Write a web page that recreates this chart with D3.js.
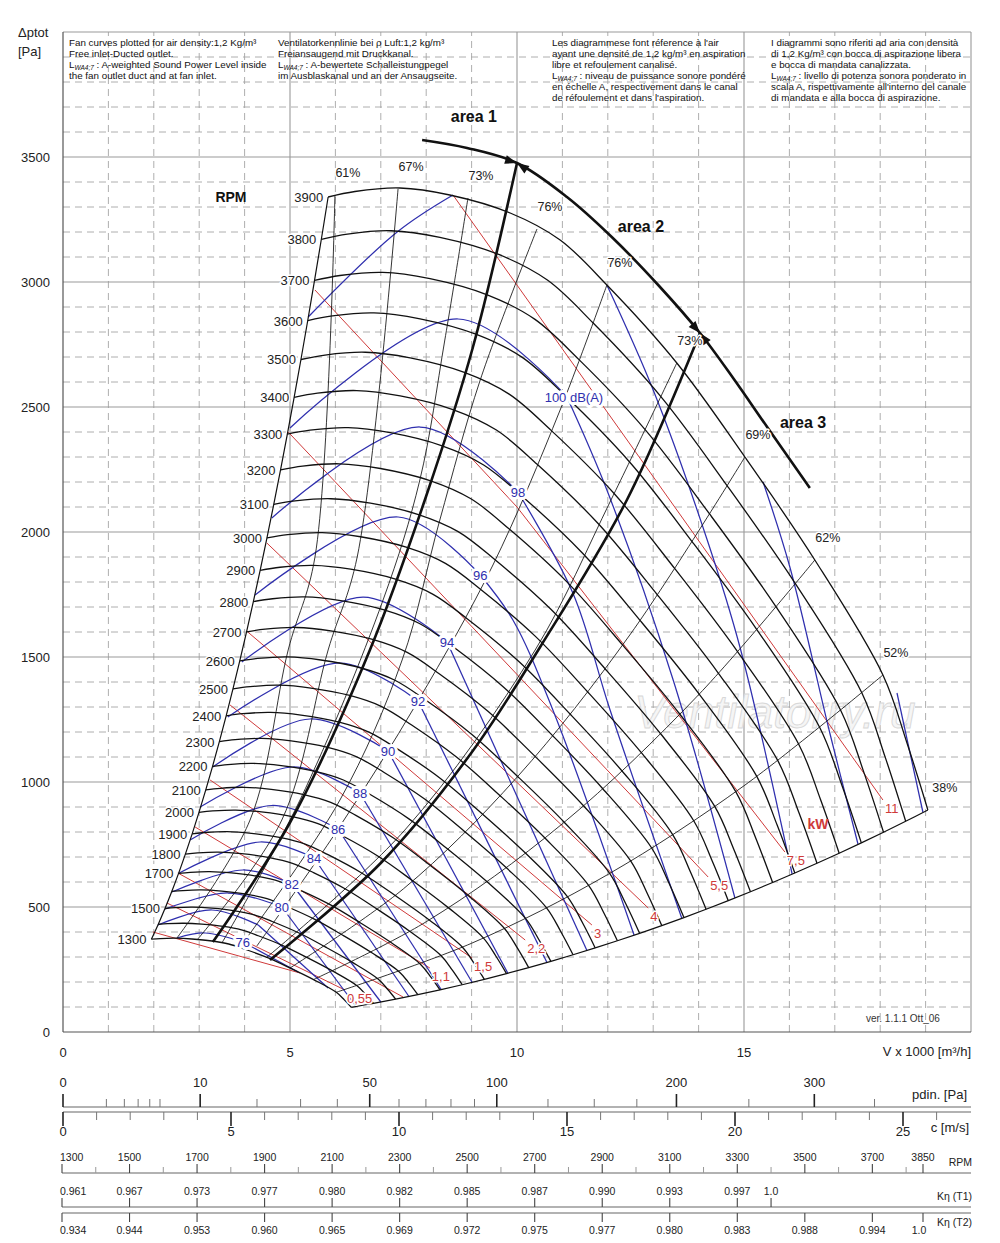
<!DOCTYPE html>
<html><head><meta charset="utf-8">
<script src="https://cdn.jsdelivr.net/npm/d3@7"></script>
<style>
body{margin:0;background:#fff}
svg{display:block}
text{font-family:"Liberation Sans",Arial,Helvetica,sans-serif}
</style></head>
<body><svg id="c" width="1000" height="1243"></svg>
<script>
// ---------------- DATA ----------------
// reference fan curve at 3900 rpm  [V x1000 m3/h, dp Pa]
const baseCurve3900 = [[5.84,3340],[6.43,3362],[7.42,3376],[8.52,3348],[9.85,3276],[10.95,3168],[11.98,2988],[13.52,2676],[15.02,2300],[16.56,1888],[18.06,1428],[18.59,1156],[19.05,888]];
const baseRpm = 3900;
const rpmList = [1300,1400,1500,1600,1700,1800,1900,2000,2100,2200,2300,2400,2500,2600,2700,2800,2900,3000,3100,3200,3300,3400,3500,3600,3700,3800,3900];
const rpmLabelled = [1300,1500,1700,1800,1900,2000,2100,2200,2300,2400,2500,2600,2700,2800,2900,3000,3100,3200,3300,3400,3500,3600,3700,3800,3900];

// iso-efficiency lines (top -> bottom)
const effLabels = ["61%","67%","73%","76%","76%","73%","69%","62%","52%"];
const effLines = [
  [[5.99,3348],[5.55,1900],[4.96,1528],[4.12,848],[2.51,376]],
  [[7.38,3372],[6.48,1900],[5.84,1528],[4.82,848],[2.97,372]],
  [[8.92,3336],[8.41,2768],[7.86,2208],[7.05,1728],[5.22,928],[3.50,356]],
  [[10.44,3212],[9.19,2608],[8.30,2048],[7.47,1488],[6.10,928],[3.90,340]],
  [[11.98,2988],[10.95,2488],[9.47,1868],[7.82,1324],[6.06,812],[4.27,344]],
  [[13.52,2676],[12.07,2128],[10.40,1528],[7.53,808],[4.47,296]],
  [[15.02,2300],[12.5,1592],[10.0,1019],[7.5,573],[5.0,256]],
  [[16.56,1888],[14.0,1349],[11.0,833],[8.0,441],[5.52,210]],
  [[18.06,1428],[15.0,985],[12.0,630],[9.0,355],[6.02,159]]
];
const lowerLabel = "38%";

// operating areas
const area1Line = [[3.30,360],[5.0,838],[6.76,1528],[8.0,2144],[9.03,2740],[10.0,3476]];
const area2Line = [[4.56,288],[7.0,676],[9.0,1118],[10.51,1540],[12.42,2128],[14.03,2796]];
const areaArc = [[7.91,3568],[8.90,3536],[10.0,3476],[11.10,3340],[12.11,3176],[13.15,2980],[14.03,2796],[14.76,2616],[15.51,2420],[16.45,2176]];
const areaJunctions = [2,6];
const areaNames = ["area 1","area 2","area 3"];
const areaNamePos = [[9.05,3640],[12.73,3200],[16.30,2416]];

// sound power level contours, dB(A)
const dbLevels = [76,78,80,82,84,86,88,90,92,94,96,98,100,102,104,106];
const dbArcs = [
  [[2.51,376],[3.13,396],[3.96,360]],
  [[2.09,428],[3.28,488],[4.30,428]],
  [[2.25,492],[3.63,556],[4.82,500]],
  [[2.40,560],[3.96,648],[5.04,592]],
  [[2.56,636],[4.34,760],[5.53,696]],
  [[2.80,768],[4.60,906],[6.06,812]],
  [[3.02,900],[5.07,1060],[6.54,956]],
  [[3.30,1060],[5.44,1252],[7.16,1124]],
  [[3.63,1260],[6.10,1476],[7.82,1324]],
  [[3.94,1480],[6.61,1740],[8.46,1560]],
  [[4.23,1748],[7.38,2060],[9.19,1828]],
  [[4.60,2056],[7.86,2420],[10.02,2160]],
  [[5.00,2416],[8.70,2852],[11.10,2540]],
  [[5.40,2860],[7.36,3200],[8.59,3348]],
  null,
  null
];
const dbFalls = [
  [[3.96,360],[5.18,240]],
  [[4.30,428],[5.84,176]],
  [[4.82,500],[6.45,104]],
  [[5.04,592],[7.00,120]],
  [[5.53,696],[7.62,142]],
  [[6.06,812],[8.33,170]],
  [[6.54,956],[9.01,199]],
  [[7.16,1124],[9.80,235]],
  [[7.82,1324],[10.66,278]],
  [[8.46,1560],[11.54,326]],
  [[9.19,1828],[9.91,1648],[10.79,1288],[12.58,387]],
  [[10.02,2160],[11.23,1756],[12.05,1288],[13.63,455]],
  [[11.10,2540],[11.98,2168],[13.44,1408],[14.80,536]],
  [[11.98,2988],[13.0,2568],[14.19,1968],[14.91,1540],[16.06,632]],
  [[15.42,2200],[16.01,1860],[16.89,1196],[17.51,752]],
  [[18.37,1356],[18.94,880]]
];
const dbLabelText = ["76",null,"80","82","84","86","88","90","92","94","96","98","100 dB(A)",null,null,null];

// absorbed power lines, kW
const kwValues = ["0,37","0,55","0,75","1,1","1,5","2,2","3","4","5,5","7,5","11"];
const kwShown = [false,true,false,true,true,true,true,true,true,true,true];
const kwLines = [
  [[1.98,400],[5.22,236]],
  [[2.29,516],[6.21,168]],
  [[2.53,636],[7.49,140]],
  [[2.91,820],[8.08,256]],
  [[3.24,1008],[9.01,296]],
  [[3.68,1308],[10.18,368]],
  [[4.07,1600],[11.65,428]],
  [[4.49,1956],[12.89,496]],
  [[4.96,2400],[14.21,620]],
  [[5.55,2968],[10.0,2100],[15.90,720]],
  [[8.59,3348],[18.06,928]]
];

// axes ticks
const xTickLabels = [0,5,10,15];
const yTickLabels = [0,500,1000,1500,2000,2500,3000,3500];
const pdinMajor = [0,10,50,100,200,300];
const pdinMinor = [1,2,3,4,5,20,30,40,60,70,80,90,125,150,175,250,350];
const cMajor = [0,5,10,15,20,25];
const rpmScaleLabels = [1300,1500,1700,1900,2100,2300,2500,2700,2900,3100,3300,3500,3700,3850];
const rpmScaleMinor = [1400,1600,1800,2000,2200,2400,2600,2800,3000,3200,3400,3600,3800];
const kT1Rpm = [1300,1500,1700,1900,2100,2300,2500,2700,2900,3100,3300,3400];
const kT1 = ["0.961","0.967","0.973","0.977","0.980","0.982","0.985","0.987","0.990","0.993","0.997","1.0"];
const kT2Rpm = [1300,1500,1700,1900,2100,2300,2500,2700,2900,3100,3300,3500,3700,3850];
const kT2 = ["0.934","0.944","0.953","0.960","0.965","0.969","0.972","0.975","0.977","0.980","0.983","0.988","0.994","1.0"];

const headerBlocks = [
  {x:69, lines:["Fan curves plotted for air density:1,2 Kg/m³","Free inlet-Ducted outlet.","L| : A-weighted Sound Power Level inside","the fan outlet duct and at fan inlet."]},
  {x:278, lines:["Ventilatorkennlinie bei ρ Luft:1,2 kg/m³","Freiansaugend mit Druckkanal.","L| : A-bewertete Schalleistungpegel","im Ausblaskanal und an der Ansaugseite."]},
  {x:552, lines:["Les diagrammese font réference à l'air","ayant une densité de 1,2 kg/m³ en aspiration","libre et refoulement canalisé.","L| : niveau de puissance sonore pondéré","en échelle A, respectivement dans le canal","de réfoulement et dans l'aspiration."]},
  {x:771, lines:["I diagrammi sono riferiti ad aria con densità","di 1,2 Kg/m³ con bocca di aspirazione libera","e bocca di mandata canalizzata.","L| : livello di potenza sonora ponderato in","scala A, rispettivamente all'interno del canale","di mandata e alla bocca di aspirazione."]}
];

// ---------------- DRAW ----------------
const svg = d3.select("#c");
const x = d3.scaleLinear().domain([0,20]).range([63,971]);
const y = d3.scaleLinear().domain([0,4000]).range([1032,32]);
const straight = d3.line().x(d=>x(d[0])).y(d=>y(d[1]));
const smooth = d3.line().x(d=>x(d[0])).y(d=>y(d[1])).curve(d3.curveCatmullRom.alpha(0.5));

const BLUE="#2f2fae", RED="#cf3a3a", BLK="#111";

// grid
const grid = svg.append("g");
for (let v=1; v<20; v++) if (v%5) grid.append("line").attr("x1",x(v)).attr("x2",x(v)).attr("y1",y(0)).attr("y2",y(4000))
  .attr("stroke","#a5a5a5").attr("stroke-width",0.9).attr("stroke-dasharray","7,5");
for (let p=100; p<4000; p+=100) if (p%500) grid.append("line").attr("x1",x(0)).attr("x2",x(20)).attr("y1",y(p)).attr("y2",y(p))
  .attr("stroke","#a5a5a5").attr("stroke-width",0.9).attr("stroke-dasharray","7,5");
[5,10,15,20].forEach(v=>grid.append("line").attr("x1",x(v)).attr("x2",x(v)).attr("y1",y(0)).attr("y2",y(4000)).attr("stroke","#999").attr("stroke-width",1.1));
[500,1000,1500,2000,2500,3000,3500,4000].forEach(p=>grid.append("line").attr("x1",x(0)).attr("x2",x(20)).attr("y1",y(p)).attr("y2",y(p)).attr("stroke","#999").attr("stroke-width",1.1));
grid.append("line").attr("x1",x(0)).attr("x2",x(0)).attr("y1",y(0)).attr("y2",y(4000)).attr("stroke","#555").attr("stroke-width",1.2);
grid.append("line").attr("x1",x(0)).attr("x2",x(20)).attr("y1",y(0)).attr("y2",y(0)).attr("stroke","#555").attr("stroke-width",1.2);

// header text
headerBlocks.forEach(b=>{
  b.lines.forEach((ln,i)=>{
    const t = svg.append("text").attr("x",b.x).attr("y",46+i*11).attr("font-size",9.8).attr("fill","#111");
    if (ln.startsWith("L|")) {
      t.append("tspan").text("L");
      t.append("tspan").attr("font-size",6.5).attr("dy",2).attr("font-style","italic").text("WA4;7");
      t.append("tspan").attr("dy",-2).text(ln.slice(2));
    } else t.text(ln);
  });
});

// watermark
svg.append("text").attr("x",x(15.68)).attr("y",y(1216)).attr("text-anchor","middle")
  .attr("font-size",46).attr("font-style","italic").attr("fill","#f5f5f5").attr("stroke","#d8d8d8").attr("stroke-width",0.9)
  .text("Ventilatorry.ru");

// axis labels
xTickLabels.forEach(v=>svg.append("text").attr("x",x(v)).attr("y",1057).attr("text-anchor","middle").attr("font-size",13).attr("fill","#222").text(v));
svg.append("text").attr("x",971).attr("y",1056).attr("text-anchor","end").attr("font-size",13).attr("fill","#222").text("V x 1000 [m³/h]");
yTickLabels.forEach(p=>svg.append("text").attr("x",50).attr("y",y(p)+5).attr("text-anchor","end").attr("font-size",13).attr("fill","#222").text(p));
svg.append("text").attr("x",18).attr("y",37).attr("font-size",13).attr("fill","#222").text("Δptot");
svg.append("text").attr("x",18).attr("y",56).attr("font-size",13).attr("fill","#222").text("[Pa]");

// red power lines
const kwG = svg.append("g");
kwLines.forEach((pts,i)=>{
  kwG.append("path").attr("d",straight(pts)).attr("fill","none").attr("stroke",RED).attr("stroke-width",1);
});

// blue sound contours
const dbG = svg.append("g");
dbLevels.forEach((lv,i)=>{
  if (dbArcs[i]) dbG.append("path").attr("d",smooth(dbArcs[i])).attr("fill","none").attr("stroke",BLUE).attr("stroke-width",1.25);
  if (dbFalls[i]) dbG.append("path").attr("d",smooth(dbFalls[i])).attr("fill","none").attr("stroke",BLUE).attr("stroke-width",1.25);
});

// iso-efficiency lines
const effG = svg.append("g");
effLines.forEach((pts,i)=>{
  effG.append("path").attr("d",smooth(pts)).attr("fill","none").attr("stroke",BLK).attr("stroke-width",0.85);
});

// RPM curves (affinity laws from the 3900 rpm curve)
const rpmG = svg.append("g");
const scaled = n => baseCurve3900.map(d=>[d[0]*n/baseRpm, d[1]*(n/baseRpm)*(n/baseRpm)]);
rpmList.forEach(n=>{
  rpmG.append("path").attr("d",smooth(scaled(n))).attr("fill","none").attr("stroke",BLK).attr("stroke-width",1.3);
});
const leftB = rpmList.map(n=>scaled(n)[0]);
const lowB = rpmList.map(n=>{const s=scaled(n); return s[s.length-1];});
rpmG.append("path").attr("d",smooth(leftB)).attr("fill","none").attr("stroke",BLK).attr("stroke-width",1.2);
rpmG.append("path").attr("d",smooth(lowB)).attr("fill","none").attr("stroke",BLK).attr("stroke-width",1.2);

// areas
const arG = svg.append("g");
[area1Line,area2Line].forEach(pts=>arG.append("path").attr("d",smooth(pts)).attr("fill","none").attr("stroke",BLK).attr("stroke-width",2.6));
arG.append("path").attr("d",smooth(areaArc)).attr("fill","none").attr("stroke",BLK).attr("stroke-width",2.6);
function arrow(from,tip){
  const x0=x(from[0]),y0=y(from[1]),x1=x(tip[0]),y1=y(tip[1]);
  const a=Math.atan2(y1-y0,x1-x0), L=12, W=4.5;
  const bx=x1-L*Math.cos(a), by=y1-L*Math.sin(a);
  arG.append("path").attr("d",`M${x1},${y1}L${bx-W*Math.sin(a)},${by+W*Math.cos(a)}L${bx+W*Math.sin(a)},${by-W*Math.cos(a)}Z`).attr("fill",BLK);
}
areaJunctions.forEach(j=>{arrow(areaArc[j-1],areaArc[j]);arrow(areaArc[j+1],areaArc[j]);});
areaNames.forEach((nm,i)=>svg.append("text").attr("x",x(areaNamePos[i][0])).attr("y",y(areaNamePos[i][1])).attr("text-anchor","middle")
  .attr("font-size",16).attr("font-weight","bold").attr("fill",BLK).text(nm));

// labels with halo
function halo(sel,w){return sel.attr("stroke","#fff").attr("stroke-width",w).attr("paint-order","stroke").attr("stroke-linejoin","round");}

// RPM labels
rpmLabelled.forEach(n=>{
  const s=scaled(n)[0];
  halo(svg.append("text").attr("x",x(s[0])-5).attr("y",y(s[1])+5).attr("text-anchor","end").attr("font-size",13).attr("fill","#222").text(n),3);
});
svg.append("text").attr("x",x(3.70)).attr("y",y(3320)).attr("text-anchor","middle").attr("font-size",14).attr("font-weight","bold").attr("fill",BLK).text("RPM");

// efficiency labels
effLines.forEach((pts,i)=>{
  halo(svg.append("text").attr("x",x(pts[0][0])+13).attr("y",y(pts[0][1])-18).attr("text-anchor","middle").attr("font-size",12.5).attr("fill","#222").text(effLabels[i]),3);
});
{ const e=lowB[lowB.length-1];
  halo(svg.append("text").attr("x",x(e[0])+17).attr("y",y(e[1])-18).attr("text-anchor","middle").attr("font-size",12.5).attr("fill","#222").text(lowerLabel),3); }

// dB labels
dbLevels.forEach((lv,i)=>{
  if (!dbLabelText[i]) return;
  const p=dbFalls[i][0];
  halo(svg.append("text").attr("x",x(p[0])+(i===12?7:0)).attr("y",y(p[1])+5).attr("text-anchor","middle").attr("font-size",13).attr("fill",BLUE).text(dbLabelText[i]),6);
});

// kW labels
kwLines.forEach((pts,i)=>{
  if (!kwShown[i]) return;
  const e=pts[pts.length-1];
  halo(svg.append("text").attr("x",x(e[0])+2).attr("y",y(e[1])+13).attr("text-anchor","start").attr("font-size",13).attr("fill",RED).text(kwValues[i]),3);
});
svg.append("text").attr("x",x(16.63)).attr("y",y(812)).attr("text-anchor","middle").attr("font-size",14).attr("font-weight","bold").attr("fill",RED).text("kW");

svg.append("text").attr("x",x(18.5)).attr("y",y(40)).attr("text-anchor","middle").attr("font-size",10).attr("fill","#333").text("ver. 1.1.1 Ott_06");

// ---------------- bottom scales ----------------
const bs = svg.append("g");
const xc = d3.scaleLinear().domain([0,25]).range([63,903]);
const xp = d3.scaleSqrt().domain([0,375]).range([63,903]);
const xr = d3.scaleLinear().domain([1300,3850]).range([62,923]);
const AX="#666";
// pdin
bs.append("line").attr("x1",63).attr("x2",971).attr("y1",1107).attr("y2",1107).attr("stroke",AX).attr("stroke-width",1.2);
pdinMajor.forEach(v=>{
  bs.append("line").attr("x1",xp(v)).attr("x2",xp(v)).attr("y1",1094).attr("y2",1107).attr("stroke","#222").attr("stroke-width",1.6);
  bs.append("text").attr("x",xp(v)).attr("y",1087).attr("text-anchor","middle").attr("font-size",13).attr("fill","#222").text(v);
});
pdinMinor.forEach(v=>bs.append("line").attr("x1",xp(v)).attr("x2",xp(v)).attr("y1",1099).attr("y2",1107).attr("stroke","#777").attr("stroke-width",1));
bs.append("text").attr("x",967).attr("y",1099).attr("text-anchor","end").attr("font-size",13).attr("fill","#222").text("pdin. [Pa]");
// c
bs.append("line").attr("x1",63).attr("x2",971).attr("y1",1112).attr("y2",1112).attr("stroke",AX).attr("stroke-width",1.2);
for (let c=0;c<=26;c++){
  const maj = cMajor.includes(c);
  bs.append("line").attr("x1",xc(c)).attr("x2",xc(c)).attr("y1",1112).attr("y2",maj?1126:1120).attr("stroke",maj?"#222":"#777").attr("stroke-width",maj?1.6:1);
}
cMajor.forEach(c=>bs.append("text").attr("x",xc(c)).attr("y",1136).attr("text-anchor","middle").attr("font-size",13).attr("fill","#222").text(c));
bs.append("text").attr("x",969).attr("y",1132).attr("text-anchor","end").attr("font-size",13).attr("fill","#222").text("c [m/s]");
// rpm
const NF = 10.5;
bs.append("line").attr("x1",62).attr("x2",971).attr("y1",1173).attr("y2",1173).attr("stroke",AX).attr("stroke-width",1.2);
rpmScaleLabels.forEach((r,i)=>{
  bs.append("line").attr("x1",xr(r)).attr("x2",xr(r)).attr("y1",1164).attr("y2",1173).attr("stroke","#444").attr("stroke-width",1.1);
  bs.append("text").attr("x",xr(r)+(i===0?-2:0)).attr("y",1161).attr("text-anchor",i===0?"start":"middle").attr("font-size",NF).attr("fill","#222").text(r);
});
rpmScaleMinor.forEach(r=>bs.append("line").attr("x1",xr(r)).attr("x2",xr(r)).attr("y1",1167).attr("y2",1173).attr("stroke","#999").attr("stroke-width",1));
bs.append("text").attr("x",972).attr("y",1166).attr("text-anchor","end").attr("font-size",NF).attr("fill","#222").text("RPM");
// K T1
bs.append("line").attr("x1",62).attr("x2",971).attr("y1",1207).attr("y2",1207).attr("stroke",AX).attr("stroke-width",1.2);
kT1Rpm.forEach((r,i)=>{
  bs.append("line").attr("x1",xr(r)).attr("x2",xr(r)).attr("y1",1198).attr("y2",1207).attr("stroke","#444").attr("stroke-width",1.1);
  bs.append("text").attr("x",xr(r)+(i===0?-2:0)).attr("y",1195).attr("text-anchor",i===0?"start":"middle").attr("font-size",NF).attr("fill","#222").text(kT1[i]);
});
bs.append("text").attr("x",972).attr("y",1200).attr("text-anchor","end").attr("font-size",NF).attr("fill","#222").text("Kη (T1)");
// K T2
bs.append("line").attr("x1",62).attr("x2",971).attr("y1",1213).attr("y2",1213).attr("stroke",AX).attr("stroke-width",1.2);
kT2Rpm.forEach((r,i)=>{
  bs.append("line").attr("x1",xr(r)).attr("x2",xr(r)).attr("y1",1213).attr("y2",1222).attr("stroke","#444").attr("stroke-width",1.1);
  bs.append("text").attr("x",xr(r)+(i===0?-2:(i===kT2Rpm.length-1?-4:0))).attr("y",1234).attr("text-anchor",i===0?"start":"middle").attr("font-size",NF).attr("fill","#222").text(kT2[i]);
});
bs.append("text").attr("x",972).attr("y",1226).attr("text-anchor","end").attr("font-size",NF).attr("fill","#222").text("Kη (T2)");
</script>
</body></html>
